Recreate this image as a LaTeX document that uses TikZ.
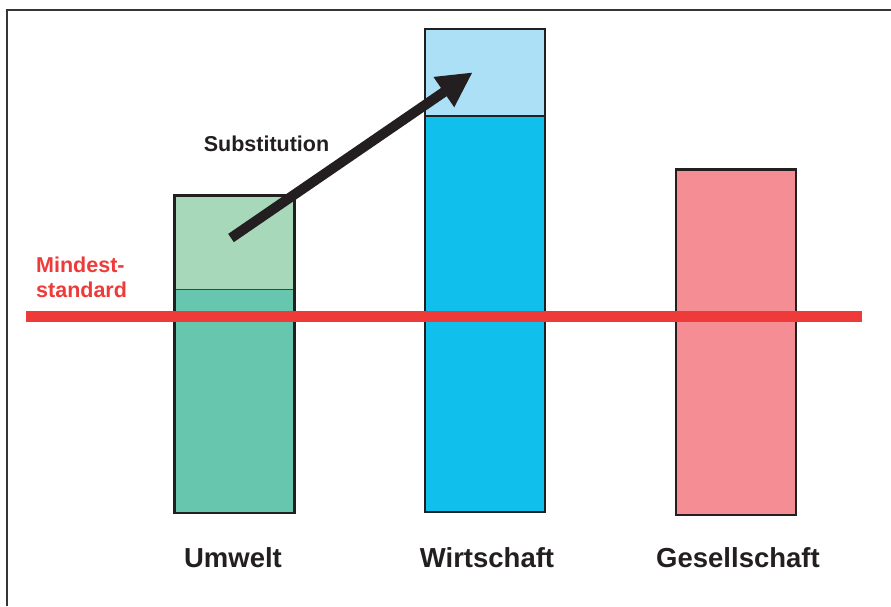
\documentclass[tikz,border=0pt]{standalone}
\usepackage{fontspec}
\setmainfont{Liberation Sans}
\usetikzlibrary{arrows.meta}
\definecolor{umLight}{HTML}{A7D8B9}
\definecolor{umDark}{HTML}{67C6AE}
\definecolor{wiLight}{HTML}{ACE0F7}
\definecolor{wiDark}{HTML}{10BFEC}
\definecolor{geFill}{HTML}{F48D94}
\definecolor{redLine}{HTML}{EE3B3A}
\definecolor{ink}{HTML}{231F20}
\tikzset{
  barbox/.style={draw=ink, line width=2.4pt},
  frameline/.style={draw=ink!90, line width=1.8pt},
  minline/.style={draw=redLine, line width=11pt},
  subarrow/.style={draw=ink, line width=10pt, -{Triangle[length=35pt,width=34pt]}},
  catlabel/.style={font=\bfseries\fontsize{27.5}{30}\selectfont, text=ink, inner sep=0pt, anchor=base},
  sublabel/.style={font=\bfseries\fontsize{21.5}{24}\selectfont, text=ink, inner sep=0pt, anchor=base},
  redlabel/.style={font=\bfseries\fontsize{21.5}{24}\selectfont, text=redLine, inner sep=0pt, anchor=base west}
}
\begin{document}
\begin{tikzpicture}[x=1pt, y=-1pt]
\useasboundingbox (0,0) rectangle (891,606);
% frame
\draw[frameline] (7,606) -- (7,10) -- (891,10);
% Umwelt bar
\fill[umLight] (174.5,195.5) rectangle (294.5,289);
\fill[umDark] (174.5,289) rectangle (294.5,513);
\draw[ink!85, line width=1pt] (174.5,289) -- (294.5,289);
\draw[barbox] (174.5,195.5) rectangle (294.5,513);
% Wirtschaft bar
\fill[wiLight] (425,29) rectangle (545,115.7);
\fill[wiDark] (425,115.7) rectangle (545,512);
\draw[ink, line width=2.2pt] (425,115.7) -- (545,115.7);
\draw[barbox] (425,29) rectangle (545,512);
% Gesellschaft bar
\fill[geFill] (676,169.5) rectangle (796,515);
\draw[barbox] (676,169.5) rectangle (796,515);
% Mindeststandard line
\coordinate (mlA) at (26,316);
\coordinate (mlB) at (862,316);
\draw[minline] (mlA) -- (mlB);
% substitution arrow
\coordinate (subStart) at (231,238);
\coordinate (subEnd) at (472.7,72.3);
\draw[subarrow] (subStart) -- (subEnd);
% labels
\node[sublabel] (sub) at (266.5,151.5) {Substitution};
\node[redlabel] (mind1) at (36,272) {Mindest-};
\node[redlabel] (mind2) at (36,297) {standard};
\node[catlabel] (um) at (233,567) {Umwelt};
\node[catlabel] (wi) at (487,567) {Wirtschaft};
\node[catlabel] (ge) at (738,567) {Gesellschaft};
\end{tikzpicture}
\end{document}
